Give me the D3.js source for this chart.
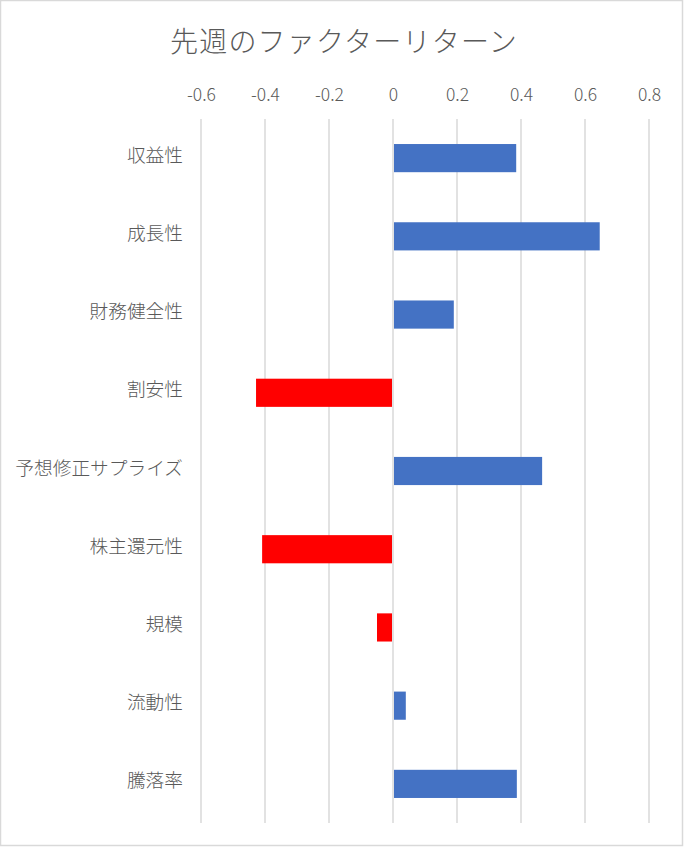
<!DOCTYPE html>
<html>
<head>
<meta charset="utf-8">
<script src="https://cdn.jsdelivr.net/npm/d3@7"></script>
<style>
  html, body { margin: 0; padding: 0; background: #fff; }
  svg { display: block; }
  text { font-family: "Noto Sans CJK JP", "Noto Sans", sans-serif; }
</style>
</head>
<body>
<svg id="chart" width="685" height="848"></svg>
<script>
// factor names, top to bottom
var factors = ["収益性", "成長性", "財務健全性", "割安性", "予想修正サプライズ", "株主還元性", "規模", "流動性", "騰落率"];
// last week's return per factor
var returns = [0.385, 0.646, 0.19, -0.428, 0.466, -0.409, -0.05, 0.04, 0.387];
var tickValues = [-0.6, -0.4, -0.2, 0, 0.2, 0.4, 0.6, 0.8];
var title = "先週のファクターリターン";

var width = 685, height = 848;
var margin = {top: 119, right: 36, bottom: 25, left: 201};
var chartWidth = width - margin.left - margin.right,
    chartHeight = height - margin.top - margin.bottom;

var svg = d3.select('#chart');

// chart border
svg.append('rect')
  .attr('x', 0.5).attr('y', 0.5)
  .attr('width', width - 3).attr('height', height - 3)
  .attr('fill', '#fff')
  .attr('stroke', '#d9d9d9')
  .attr('stroke-width', 1.5);

svg.append('text')
  .attr('x', 170)
  .attr('y', 52)
  .attr('font-size', 28)
  .attr('font-weight', 300)
  .attr('letter-spacing', 1.2)
  .attr('fill', '#595959')
  .text(title);

var g = svg.append('g').attr('transform', 'translate(' + margin.left + ',' + margin.top + ')');

var x = d3.scaleLinear()
  .domain([-0.6, 0.8])
  .range([0, 448]);

var y = d3.scaleBand()
  .domain(factors)
  .range([0, chartHeight])
  .paddingInner(0.64)
  .paddingOuter(0.32);

// vertical gridlines
g.selectAll('line.grid')
  .data(tickValues)
  .enter()
  .append('line')
  .attr('class', 'grid')
  .attr('x1', function(d) { return x(d); })
  .attr('x2', function(d) { return x(d); })
  .attr('y1', 0)
  .attr('y2', chartHeight)
  .attr('stroke', '#d9d9d9')
  .attr('stroke-width', 1.5);

// top axis labels (plain hyphen for negatives, like Excel)
var xAxis = g.append('g')
  .call(d3.axisTop(x).tickValues(tickValues).tickSize(0).tickPadding(18)
    .tickFormat(function(d) { return d === 0 ? '0' : d.toFixed(1); }));
xAxis.select('.domain').remove();
xAxis.selectAll('text')
  .attr('font-size', 17.5)
  .attr('fill', '#595959')
  .style('font-family', '"Noto Sans CJK JP", "Noto Sans", sans-serif')
  .style('font-weight', 300);

// bars
g.selectAll('rect.bar')
  .data(factors)
  .enter()
  .append('rect')
  .attr('class', 'bar')
  .attr('x', function(d, i) { return returns[i] >= 0 ? x(0) + 1 : x(returns[i]); })
  .attr('width', function(d, i) { return Math.abs(x(returns[i]) - x(0)) - 1; })
  .attr('y', function(d) { return y(d); })
  .attr('height', y.bandwidth())
  .attr('fill', function(d, i) { return returns[i] >= 0 ? '#4472c4' : '#ff0000'; });

// category labels
g.selectAll('text.cat')
  .data(factors)
  .enter()
  .append('text')
  .attr('class', 'cat')
  .attr('x', -18)
  .attr('y', function(d) { return y(d) + y.bandwidth() / 2 - 3; })
  .attr('dy', '0.35em')
  .attr('text-anchor', 'end')
  .attr('font-size', 18.7)
  .attr('font-weight', 300)
  .attr('fill', '#595959')
  .text(function(d) { return d; });
</script>
</body>
</html>
